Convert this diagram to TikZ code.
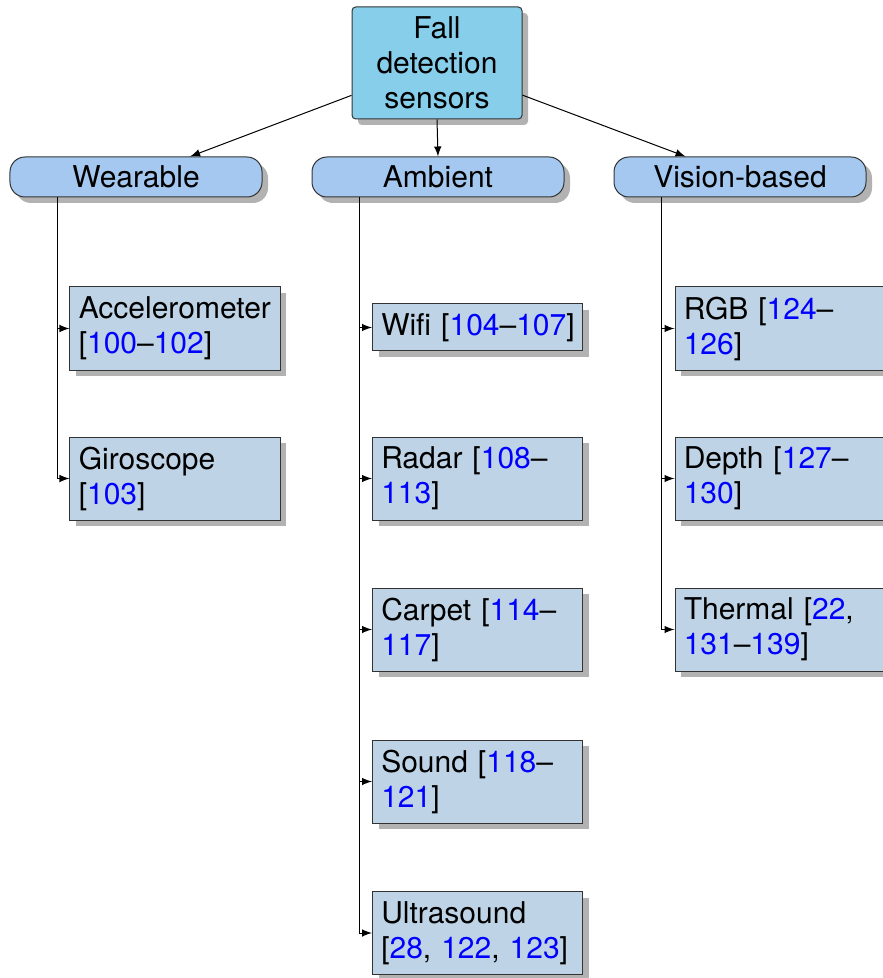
\documentclass[tikz,border=0pt]{standalone}
\usepackage{fontspec}
\setmainfont{TeX Gyre Heros}
\usetikzlibrary{calc,shadows,arrows}
\definecolor{rootblue}{RGB}{135,206,235}
\definecolor{groupblue}{RGB}{164,200,240}
\definecolor{leafblue}{RGB}{190,212,230}
\newcommand{\rf}[1]{\textcolor{blue}{#1}}

\begin{document}
\begin{tikzpicture}[x=0.4pt,y=-0.4pt,
  every node/.style={font=\fontsize{12}{14}\selectfont},
  boxshadow/.style={drop shadow={shadow xshift=2.4pt,shadow yshift=-2.4pt,fill=black!30,opacity=1}},
  rootbox/.style={draw=black!80,fill=rootblue,rounded corners=1.5pt,boxshadow,align=center,
    minimum width=68pt,minimum height=44.8pt,inner sep=0pt},
  groupbox/.style={draw=black!80,fill=groupblue,rounded corners=6pt,boxshadow,
    minimum width=100.8pt,minimum height=16pt,inner sep=0pt},
  leafbox/.style={draw=black!80,fill=leafblue,boxshadow,align=left,text width=77pt,
    inner xsep=3.5pt,inner ysep=0pt,minimum height=33.2pt},
  link/.style={-latex,black}]

\useasboundingbox (0,0) rectangle (882,978);

% root and groups
\node[rootbox] (root) at (437,63) {Fall\\detection\\sensors};
\node[groupbox] (wear) at (136,177) {Wearable};
\node[groupbox] (amb) at (438,177) {Ambient};
\node[groupbox] (vis) at (740,177) {Vision-based};

% wearable
\node[leafbox] (acc) at (175,328.5) {Accelerometer\\{[}\rf{100}--\rf{102}{]}};
\node[leafbox] (giro) at (175,478.5) {Giroscope\\{[}\rf{103}{]}};

% ambient
\node[leafbox,minimum height=18.8pt] (wifi) at (477.5,327.5) {\mbox{Wifi [\rf{104}--\rf{107}]}};
\node[leafbox] (radar) at (477.5,478.5) {Radar [\rf{108}--\\\rf{113}{]}};
\node[leafbox] (carpet) at (477.5,629.5) {Carpet [\rf{114}--\\\rf{117}{]}};
\node[leafbox] (sound) at (477.5,781.5) {Sound [\rf{118}--\\\rf{121}{]}};
\node[leafbox] (ultra) at (477.5,933) {Ultrasound\\{[}\rf{28}, \rf{122}, \rf{123}{]}};

% vision-based
\node[leafbox] (rgb) at (780,328.5) {RGB [\rf{124}--\\\rf{126}{]}};
\node[leafbox] (depth) at (780,478.5) {Depth [\rf{127}--\\\rf{130}{]}};
\node[leafbox] (thermal) at (780,629.5) {Thermal [\rf{22},\\\rf{131}--\rf{139}{]}};

% connectors
\draw[link] (root) -- (wear);
\draw[link] (root.south) -- (amb.north);
\draw[link] (root) -- (vis);

\coordinate (wearstem) at ($(wear.south west)+(19.2pt,0)$);
\coordinate (ambstem) at ($(amb.south west)+(19.2pt,0)$);
\coordinate (visstem) at ($(vis.south west)+(19.2pt,0)$);

\draw[link] (wearstem) |- (acc.west);
\draw[link] (wearstem) |- (giro.west);

\draw[link] (ambstem) |- (wifi.west);
\draw[link] (ambstem) |- (radar.west);
\draw[link] (ambstem) |- (carpet.west);
\draw[link] (ambstem) |- (sound.west);
\draw[link] (ambstem) |- (ultra.west);

\draw[link] (visstem) |- (rgb.west);
\draw[link] (visstem) |- (depth.west);
\draw[link] (visstem) |- (thermal.west);
\end{tikzpicture}
\end{document}
